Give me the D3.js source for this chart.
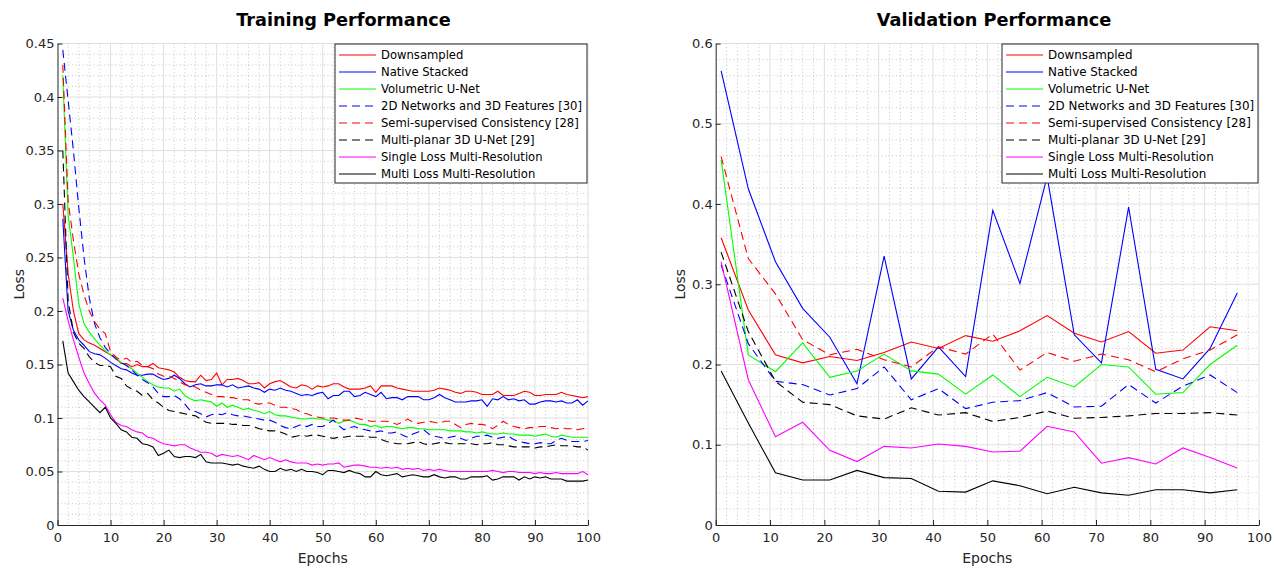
<!DOCTYPE html>
<html>
<head>
<meta charset="utf-8">
<script src="https://cdn.jsdelivr.net/npm/d3@7"></script>
<style>
body{margin:0;background:#fff;}
svg{display:block;font-family:"DejaVu Sans",Verdana,sans-serif;}
</style>
</head>
<body>
<div id="chart"></div>
<script>
// legend / series definitions
const seriesNames=['Downsampled','Native Stacked','Volumetric U-Net','2D Networks and 3D Features [30]',
    'Semi-supervised Consistency [28]','Multi-planar 3D U-Net [29]','Single Loss Multi-Resolution','Multi Loss Multi-Resolution'];
const seriesColors=['#ff0000','#0000ff','#00ff00','#0000ff','#ff0000','#000000','#ff00ff','#000000'];
const seriesDashed=[false,false,false,true,true,true,false,false];

// training loss, one value per epoch (1..100)
const trainEpochs=d3.range(1,101);
const trainDownsampled=[0.300,0.235,0.200,0.179,0.173,0.170,0.168,0.165,0.162,0.159,
    0.156,0.151,0.151,0.148,0.150,0.148,0.148,0.151,0.147,0.146,
    0.145,0.143,0.138,0.135,0.134,0.134,0.140,0.135,0.136,0.142,
    0.131,0.136,0.136,0.137,0.135,0.132,0.132,0.133,0.128,0.132,
    0.134,0.135,0.132,0.129,0.128,0.131,0.130,0.127,0.130,0.129,
    0.130,0.132,0.132,0.129,0.127,0.127,0.127,0.128,0.130,0.124,
    0.130,0.130,0.130,0.128,0.127,0.126,0.125,0.125,0.125,0.125,
    0.126,0.128,0.127,0.126,0.124,0.123,0.125,0.125,0.124,0.122,
    0.122,0.122,0.125,0.121,0.121,0.121,0.123,0.125,0.124,0.121,
    0.121,0.122,0.122,0.122,0.124,0.122,0.121,0.120,0.119,0.120];
const trainNative=[0.286,0.200,0.182,0.173,0.168,0.162,0.160,0.159,0.156,0.152,
    0.149,0.146,0.145,0.142,0.140,0.140,0.141,0.141,0.138,0.136,
    0.137,0.140,0.137,0.132,0.129,0.131,0.132,0.130,0.130,0.131,
    0.131,0.129,0.131,0.128,0.129,0.130,0.128,0.127,0.124,0.127,
    0.126,0.128,0.126,0.125,0.123,0.121,0.122,0.121,0.123,0.124,
    0.118,0.121,0.121,0.125,0.125,0.120,0.121,0.124,0.122,0.120,
    0.124,0.118,0.119,0.119,0.117,0.120,0.120,0.120,0.117,0.117,
    0.119,0.122,0.119,0.117,0.115,0.115,0.115,0.116,0.116,0.117,
    0.111,0.118,0.117,0.120,0.117,0.118,0.116,0.117,0.113,0.113,
    0.115,0.116,0.116,0.115,0.116,0.114,0.114,0.117,0.112,0.116];
const trainVolumetric=[0.420,0.290,0.250,0.207,0.188,0.180,0.174,0.168,0.163,0.159,
    0.156,0.152,0.149,0.146,0.142,0.138,0.134,0.131,0.129,0.128,
    0.128,0.125,0.127,0.121,0.118,0.116,0.117,0.116,0.115,0.111,
    0.114,0.110,0.112,0.110,0.108,0.109,0.107,0.106,0.104,0.106,
    0.103,0.102,0.102,0.101,0.100,0.099,0.099,0.100,0.099,0.099,
    0.098,0.098,0.095,0.097,0.098,0.096,0.094,0.094,0.092,0.093,
    0.091,0.092,0.092,0.091,0.090,0.091,0.091,0.090,0.090,0.089,
    0.089,0.089,0.089,0.088,0.088,0.088,0.087,0.087,0.086,0.087,
    0.086,0.085,0.085,0.086,0.085,0.085,0.084,0.084,0.084,0.083,
    0.084,0.085,0.083,0.082,0.084,0.083,0.082,0.082,0.082,0.082];
const train2DNet=[0.444,0.397,0.350,0.297,0.250,0.212,0.188,0.175,0.166,0.160,
    0.155,0.152,0.149,0.145,0.140,0.136,0.133,0.129,0.123,0.120,
    0.120,0.121,0.118,0.113,0.107,0.106,0.104,0.101,0.103,0.104,
    0.103,0.105,0.103,0.102,0.102,0.101,0.100,0.099,0.098,0.098,
    0.096,0.093,0.091,0.090,0.092,0.094,0.092,0.094,0.092,0.092,
    0.095,0.098,0.093,0.089,0.091,0.092,0.090,0.089,0.088,0.087,
    0.088,0.086,0.086,0.087,0.084,0.082,0.085,0.087,0.089,0.085,
    0.083,0.082,0.081,0.082,0.083,0.081,0.079,0.081,0.083,0.083,
    0.084,0.082,0.081,0.082,0.083,0.080,0.078,0.077,0.076,0.076,
    0.077,0.076,0.076,0.079,0.081,0.079,0.078,0.078,0.078,0.079];
const trainSemiSup=[0.430,0.303,0.266,0.235,0.215,0.200,0.190,0.183,0.179,0.162,
    0.157,0.154,0.156,0.152,0.153,0.149,0.148,0.146,0.141,0.139,
    0.139,0.137,0.134,0.131,0.130,0.129,0.126,0.124,0.122,0.120,
    0.120,0.119,0.119,0.118,0.117,0.117,0.114,0.113,0.114,0.114,
    0.112,0.110,0.110,0.109,0.108,0.105,0.104,0.102,0.101,0.100,
    0.100,0.100,0.099,0.098,0.098,0.100,0.099,0.098,0.097,0.097,
    0.097,0.097,0.096,0.094,0.096,0.099,0.096,0.095,0.096,0.097,
    0.096,0.095,0.097,0.097,0.094,0.091,0.094,0.095,0.094,0.094,
    0.093,0.090,0.093,0.097,0.094,0.092,0.091,0.090,0.091,0.091,
    0.092,0.092,0.091,0.090,0.091,0.090,0.090,0.089,0.090,0.091];
const trainMultiPlanar=[0.350,0.210,0.180,0.170,0.165,0.157,0.152,0.149,0.149,0.148,
    0.139,0.137,0.130,0.127,0.125,0.121,0.123,0.117,0.114,0.110,
    0.107,0.106,0.105,0.104,0.103,0.102,0.099,0.096,0.095,0.095,
    0.095,0.095,0.094,0.094,0.093,0.093,0.092,0.090,0.089,0.088,
    0.088,0.087,0.085,0.082,0.083,0.084,0.083,0.084,0.084,0.083,
    0.082,0.081,0.082,0.082,0.083,0.083,0.083,0.083,0.082,0.082,
    0.080,0.078,0.077,0.076,0.076,0.076,0.077,0.078,0.076,0.075,
    0.076,0.077,0.077,0.076,0.076,0.076,0.076,0.076,0.075,0.076,
    0.076,0.077,0.075,0.075,0.074,0.073,0.073,0.073,0.073,0.072,
    0.073,0.073,0.074,0.075,0.074,0.074,0.074,0.073,0.073,0.070];
const trainSingleLoss=[0.212,0.191,0.173,0.157,0.142,0.132,0.123,0.117,0.112,0.103,
    0.096,0.093,0.092,0.089,0.087,0.086,0.082,0.081,0.078,0.076,
    0.075,0.074,0.075,0.075,0.072,0.070,0.068,0.068,0.067,0.064,
    0.066,0.065,0.064,0.065,0.063,0.061,0.065,0.063,0.061,0.063,
    0.061,0.059,0.061,0.059,0.058,0.058,0.058,0.056,0.057,0.056,
    0.057,0.057,0.058,0.054,0.055,0.056,0.056,0.055,0.054,0.054,
    0.053,0.054,0.053,0.054,0.052,0.053,0.052,0.053,0.051,0.052,
    0.051,0.052,0.051,0.050,0.050,0.050,0.050,0.050,0.050,0.050,
    0.050,0.051,0.050,0.049,0.050,0.050,0.049,0.049,0.049,0.048,
    0.049,0.048,0.048,0.049,0.048,0.048,0.048,0.048,0.050,0.047];
const trainMultiLoss=[0.172,0.142,0.134,0.126,0.120,0.115,0.110,0.105,0.110,0.100,
    0.095,0.089,0.087,0.082,0.081,0.076,0.075,0.073,0.065,0.067,
    0.070,0.064,0.063,0.064,0.064,0.063,0.066,0.059,0.058,0.058,
    0.058,0.057,0.056,0.057,0.055,0.054,0.053,0.055,0.052,0.050,
    0.050,0.053,0.051,0.052,0.050,0.052,0.050,0.050,0.049,0.047,
    0.051,0.051,0.050,0.049,0.051,0.049,0.048,0.045,0.045,0.050,
    0.047,0.046,0.047,0.048,0.045,0.046,0.047,0.046,0.045,0.045,
    0.047,0.045,0.044,0.045,0.045,0.043,0.043,0.045,0.045,0.045,
    0.046,0.042,0.043,0.045,0.045,0.045,0.042,0.045,0.043,0.045,
    0.044,0.045,0.043,0.043,0.043,0.041,0.041,0.041,0.041,0.042];

// validation loss, every 5 epochs
const valEpochs=[1,6,11,16,21,26,31,36,41,46,51,56,61,66,71,76,81,86,91,96];
const valDownsampled=[0.358,0.268,0.212,0.202,0.210,0.205,0.215,0.228,0.220,0.236,0.229,0.242,0.261,0.239,0.228,0.241,0.214,0.218,0.247,0.242];
const valNative=[0.566,0.419,0.328,0.270,0.234,0.176,0.335,0.182,0.222,0.185,0.392,0.301,0.434,0.237,0.202,0.396,0.194,0.182,0.220,0.289];
const valVolumetric=[0.455,0.212,0.191,0.227,0.184,0.192,0.213,0.192,0.188,0.163,0.187,0.160,0.184,0.172,0.200,0.197,0.163,0.165,0.200,0.224];
const val2DNet=[0.324,0.226,0.179,0.175,0.162,0.170,0.197,0.156,0.170,0.145,0.153,0.155,0.165,0.147,0.148,0.175,0.152,0.173,0.187,0.165];
const valSemiSup=[0.459,0.332,0.288,0.231,0.212,0.219,0.206,0.197,0.222,0.213,0.238,0.193,0.215,0.204,0.213,0.206,0.191,0.207,0.218,0.237];
const valMultiPlanar=[0.340,0.241,0.179,0.153,0.150,0.136,0.132,0.146,0.137,0.140,0.129,0.134,0.142,0.133,0.134,0.136,0.139,0.139,0.140,0.137];
const valSingleLoss=[0.328,0.181,0.110,0.128,0.093,0.079,0.098,0.096,0.101,0.098,0.091,0.092,0.123,0.116,0.077,0.084,0.076,0.096,0.084,0.071];
const valMultiLoss=[0.192,0.127,0.065,0.056,0.056,0.068,0.059,0.058,0.042,0.041,0.055,0.049,0.039,0.047,0.040,0.037,0.044,0.044,0.040,0.044];

// ticks
const epochTicks=[0,10,20,30,40,50,60,70,80,90,100];
const trainTicksY=[0,0.05,0.1,0.15,0.2,0.25,0.3,0.35,0.4,0.45];
const valTicksY=[0,0.1,0.2,0.3,0.4,0.5,0.6];

const width=1274;
const height=568;
const plotTop=43.5, plotBottom=525;
const axisColor='#262626';

const svg=d3.select('#chart')
    .append('svg')
    .attr('width',width)
    .attr('height',height)
    .attr('viewBox',[0,0,width,height]);

svg.append('rect').attr('width',width).attr('height',height).attr('fill','#fff');

function drawPanel(p){
    const x=d3.scaleLinear().domain([0,100]).range([p.left,p.right]);
    const y=d3.scaleLinear().domain([0,p.yMax]).range([plotBottom,plotTop]);
    const g=svg.append('g');

    // minor grid (dotted)
    const xMinor=d3.range(0,100.001,2).filter(v=>v%10!==0);
    const yMinor=d3.range(0,p.yMax+1e-9,p.yMinor).filter(v=>!p.yTicks.some(t=>Math.abs(t-v)<1e-9));
    const minor=g.append('g')
        .attr('stroke','#b8b8b8')
        .attr('stroke-width',0.8)
        .attr('stroke-dasharray','1,2.6');
    minor.selectAll('.vx').data(xMinor).join('line')
        .attr('x1',d=>x(d)).attr('x2',d=>x(d)).attr('y1',plotTop).attr('y2',plotBottom);
    minor.selectAll('.hy').data(yMinor).join('line')
        .attr('x1',p.left).attr('x2',p.right).attr('y1',d=>y(d)).attr('y2',d=>y(d));

    // major grid
    const major=g.append('g')
        .attr('stroke','#dfdfdf')
        .attr('stroke-width',1);
    major.selectAll('.vx').data(epochTicks.slice(1)).join('line')
        .attr('x1',d=>x(d)).attr('x2',d=>x(d)).attr('y1',plotTop).attr('y2',plotBottom);
    major.selectAll('.hy').data(p.yTicks.slice(1)).join('line')
        .attr('x1',p.left).attr('x2',p.right).attr('y1',d=>y(d)).attr('y2',d=>y(d));

    // curves
    const line=d3.line()
        .x((d,i)=>x(p.epochs[i]))
        .y(d=>y(d));
    g.append('g')
        .attr('fill','none')
        .selectAll('path')
        .data(p.series)
        .join('path')
            .attr('d',d=>line(d))
            .attr('stroke',(d,i)=>seriesColors[i])
            .attr('stroke-width',1.1)
            .attr('stroke-dasharray',(d,i)=>seriesDashed[i]?'8,5':null);

    // axes (MATLAB style, ticks pointing inward)
    const xAxis=g.append('g')
        .attr('transform',`translate(0,${plotBottom})`)
        .call(d3.axisBottom(x).tickValues(epochTicks).tickSizeInner(-5).tickSizeOuter(0).tickPadding(7.5));
    const yAxis=g.append('g')
        .attr('transform',`translate(${p.left},0)`)
        .call(d3.axisLeft(y).tickValues(p.yTicks).tickFormat(d=>String(+d.toFixed(2))).tickSizeInner(-5).tickSizeOuter(0).tickPadding(3));
    [xAxis,yAxis].forEach(a=>{
        a.select('.domain').attr('stroke',axisColor);
        a.selectAll('.tick line').attr('stroke',axisColor);
        a.selectAll('.tick text').attr('fill',axisColor).attr('font-size','13px').attr('font-family','"DejaVu Sans",sans-serif');
    });

    // title & labels
    svg.append('text')
        .attr('x',p.titleX).attr('y',26)
        .attr('text-anchor','middle')
        .attr('font-weight','bold')
        .attr('font-size','17.7px')
        .attr('fill','#000')
        .text(p.title);
    svg.append('text')
        .attr('x',(p.left+p.right)/2).attr('y',563)
        .attr('text-anchor','middle')
        .attr('font-size','14px')
        .attr('fill',axisColor)
        .text('Epochs');
    svg.append('text')
        .attr('transform',`translate(${p.lossX},${(plotTop+plotBottom)/2}) rotate(-90)`)
        .attr('text-anchor','middle')
        .attr('font-size','14px')
        .attr('fill',axisColor)
        .text('Loss');

    // legend
    const lg=svg.append('g').attr('transform',`translate(${p.legX},44)`);
    lg.append('rect')
        .attr('width',p.legW).attr('height',139)
        .attr('fill','#fff')
        .attr('stroke',axisColor)
        .attr('stroke-width',1);
    const rows=lg.selectAll('g.row').data(seriesNames).join('g')
        .attr('transform',(d,i)=>`translate(0,${11+17*i})`);
    rows.append('line')
        .attr('x1',4).attr('x2',41)
        .attr('stroke',(d,i)=>seriesColors[i])
        .attr('stroke-width',1.1)
        .attr('stroke-dasharray',(d,i)=>seriesDashed[i]?'8,5':null);
    rows.append('text')
        .attr('x',46).attr('dy','0.36em')
        .attr('font-size',p.legFont)
        .attr('fill','#000')
        .text(d=>d);
}

drawPanel({
    title:'Training Performance', titleX:343.5,
    left:57.5, right:588,
    yMax:0.45, yTicks:trainTicksY, yMinor:0.01,
    epochs:trainEpochs,
    series:[trainDownsampled,trainNative,trainVolumetric,train2DNet,trainSemiSup,trainMultiPlanar,trainSingleLoss,trainMultiLoss],
    lossX:23.5, legX:335, legW:252, legFont:'11.6px'
});

drawPanel({
    title:'Validation Performance', titleX:994,
    left:715.7, right:1259,
    yMax:0.6, yTicks:valTicksY, yMinor:0.02,
    epochs:valEpochs,
    series:[valDownsampled,valNative,valVolumetric,val2DNet,valSemiSup,valMultiPlanar,valSingleLoss,valMultiLoss],
    lossX:685, legX:1002, legW:256, legFont:'11.9px'
});
</script>
</body>
</html>
